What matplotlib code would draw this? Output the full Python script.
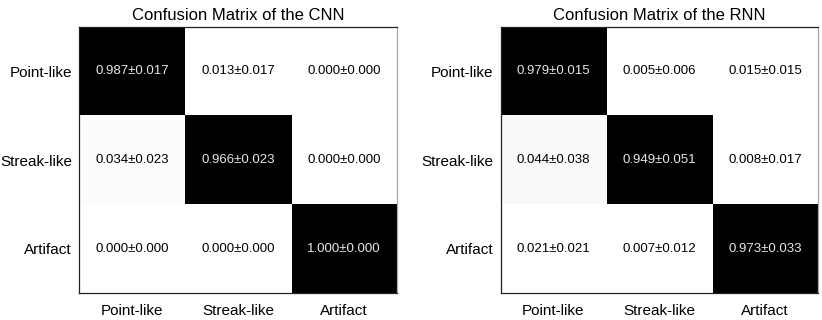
import numpy as np
import matplotlib.pyplot as plt

plt.rcParams['font.family'] = ['Liberation Sans', 'DejaVu Sans']

classes = ['Point-like', 'Streak-like', 'Artifact']

cnn_mean = [[0.987, 0.013, 0.000],
            [0.034, 0.966, 0.000],
            [0.000, 0.000, 1.000]]
cnn_std = [[0.017, 0.017, 0.000],
           [0.023, 0.023, 0.000],
           [0.000, 0.000, 0.000]]

rnn_mean = [[0.979, 0.005, 0.015],
            [0.044, 0.949, 0.008],
            [0.021, 0.007, 0.973]]
rnn_std = [[0.015, 0.006, 0.015],
           [0.038, 0.051, 0.017],
           [0.021, 0.012, 0.033]]


def draw_confmat(ax, mean, std, title):
    mean = np.array(mean)
    std = np.array(std)
    ax.imshow(mean, cmap='gray_r', vmin=0.02, vmax=0.95, aspect='auto',
              interpolation='nearest')
    for i in range(mean.shape[0]):
        for j in range(mean.shape[1]):
            color = '#e6e6e6' if mean[i, j] > 0.5 else 'black'
            ax.text(j, i, '%.3f\u00b1%.3f' % (mean[i, j], std[i, j]),
                    ha='center', va='center', fontsize=9.5, color=color)
    ax.set_xticks(range(len(classes)))
    ax.set_yticks(range(len(classes)))
    ax.set_xticklabels(classes, fontsize=11)
    ax.set_yticklabels(classes, fontsize=11)
    ax.tick_params(axis='x', length=0, pad=8)
    ax.tick_params(axis='y', length=0, pad=5)
    ax.set_title(title, fontsize=12, pad=5)
    for s in ax.spines.values():
        s.set_color('#222222')
        s.set_linewidth(0.9)
    ax.spines['right'].set_color('#aaaaaa')


fig = plt.figure(figsize=(8.22, 3.2), dpi=100)
ax1 = fig.add_axes([0.0961, 0.0844, 0.387, 0.8312])
ax2 = fig.add_axes([0.609, 0.0844, 0.386, 0.8312])

draw_confmat(ax1, cnn_mean, cnn_std, 'Confusion Matrix of the CNN')
draw_confmat(ax2, rnn_mean, rnn_std, 'Confusion Matrix of the RNN')

fig.savefig('out.png', dpi=100)
